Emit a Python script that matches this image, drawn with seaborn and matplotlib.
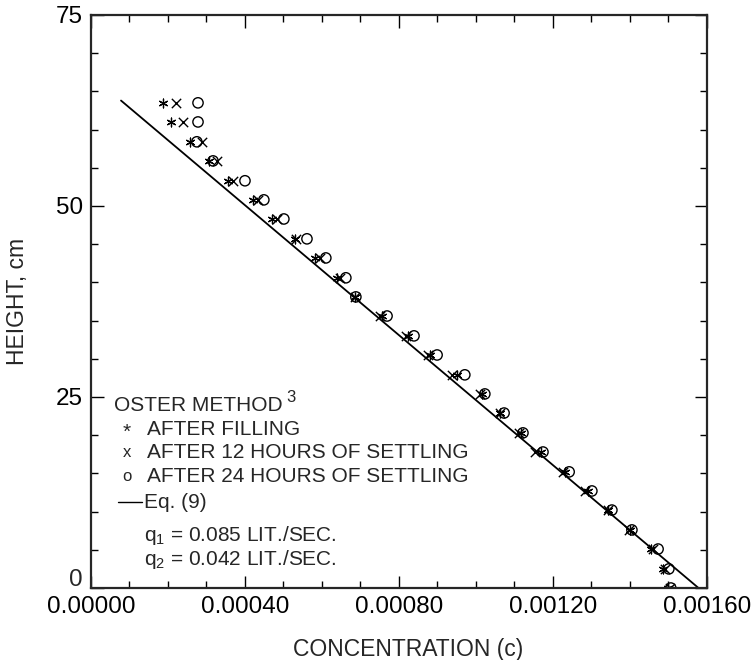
import matplotlib.pyplot as plt
import seaborn as sns
from matplotlib.ticker import MultipleLocator, FormatStrFormatter, FuncFormatter

# Heights of the sampling ports (cm)
heights = [63.5, 61.0, 58.4, 55.9, 53.3, 50.8, 48.3, 45.7, 43.2, 40.6, 38.1, 35.6, 33.0,
           30.5, 27.9, 25.4, 22.9, 20.3, 17.8, 15.2, 12.7, 10.2, 7.6, 5.1, 2.5, 0.0]

# Concentrations
after_filling = [0.000187, 0.000208, 0.000257, 0.000306, 0.000356, 0.000421, 0.000470,
                 0.000530, 0.000582, 0.000639, 0.000686, 0.000756, 0.000823, 0.000881,
                 0.000951, 0.001016, 0.001062, 0.001117, 0.001169, 0.001231, 0.001291,
                 0.001343, 0.001400, 0.001455, 0.001486, 0.001499]
after_12h = [0.000221, 0.000239, 0.000288, 0.000327, 0.000369, 0.000434, 0.000483,
             0.000532, 0.000595, 0.000647, 0.000686, 0.000751, 0.000818, 0.000875,
             0.000938, 0.001010, 0.001062, 0.001112, 0.001153, 0.001226, 0.001283,
             0.001343, 0.001397, 0.001460, 0.001491, 0.001504]
after_24h = [0.000278, 0.000278, 0.000275, 0.000317, 0.000400, 0.000449, 0.000501,
             0.000561, 0.000610, 0.000662, 0.000688, 0.000769, 0.000839, 0.000899,
             0.000971, 0.001023, 0.001073, 0.001122, 0.001174, 0.001242, 0.001301,
             0.001353, 0.001405, 0.001473, 0.001501, 0.001506]

# Eq. (9)
eq_conc = [0.000078, 0.001578]
eq_height = [63.8, 0.0]

sns.set_style('ticks')
plt.rcParams['font.family'] = ['Liberation Sans', 'DejaVu Sans']
plt.rcParams['mathtext.default'] = 'regular'

fig, ax = plt.subplots(figsize=(7.55, 6.6), dpi=100)
fig.subplots_adjust(left=0.1205, right=0.9364, top=0.9773, bottom=0.1091)

sns.lineplot(x=eq_conc, y=eq_height, sort=False, estimator=None, color='black',
             linewidth=1.3, ax=ax)
sns.scatterplot(x=after_filling, y=heights, marker=(6, 2, 0), s=40, color='black',
                linewidth=0.9, legend=False, ax=ax)
sns.scatterplot(x=after_12h, y=heights, marker='x', s=45, color='black',
                linewidth=1.0, legend=False, ax=ax)
sns.scatterplot(x=after_24h, y=heights, marker='o', s=55, facecolor='none',
                edgecolor='black', linewidth=1.0, legend=False, ax=ax)

ax.set_xlim(0, 0.0016)
ax.set_ylim(0, 75)
ax.xaxis.set_major_locator(MultipleLocator(0.0004))
ax.xaxis.set_minor_locator(MultipleLocator(0.0001))
ax.xaxis.set_major_formatter(FormatStrFormatter('%.5f'))
ax.yaxis.set_major_locator(MultipleLocator(25))
ax.yaxis.set_minor_locator(MultipleLocator(5))
# the "0" of the height axis is written separately, a little raised
ax.yaxis.set_major_formatter(FuncFormatter(lambda v, p: '' if v == 0 else '%d' % v))

for side in ['left', 'right', 'top', 'bottom']:
    ax.spines[side].set_visible(True)
    ax.spines[side].set_linewidth(1.6)
ax.tick_params(which='both', direction='in', top=True, right=True, width=1.0,
               colors='black', labelsize=17.5)
ax.tick_params(which='major', length=9, pad=6)
ax.tick_params(which='minor', length=5)

ax.text(-0.013, -0.006, '0', fontsize=17.5, ha='right', va='bottom', transform=ax.transAxes)

ax.set_xlabel('CONCENTRATION (c)', fontsize=16.5)
ax.set_ylabel('HEIGHT, cm', fontsize=16.5)
ax.xaxis.set_label_coords(0.515, -0.087)
ax.yaxis.set_label_coords(-0.10, 0.5)


# Key drawn as text, like the original
def fx(px):
    return (px - 91) / 616


def fy(py):
    return (588 - py) / 573


fs = 15
ax.text(fx(114), fy(406), 'OSTER METHOD', fontsize=fs, va='center', transform=ax.transAxes)
ax.text(fx(286), fy(398), '3', fontsize=12, va='center', transform=ax.transAxes)
ax.text(fx(127), fy(432), '*', fontsize=fs, va='center', ha='center', transform=ax.transAxes)
ax.text(fx(147), fy(430), 'AFTER FILLING', fontsize=fs, va='center', transform=ax.transAxes)
ax.text(fx(127), fy(453), 'x', fontsize=12, va='center', ha='center', transform=ax.transAxes)
ax.text(fx(147), fy(453), 'AFTER 12 HOURS OF SETTLING', fontsize=fs, va='center',
        transform=ax.transAxes)
ax.text(fx(127), fy(477), 'o', fontsize=12, va='center', ha='center', transform=ax.transAxes)
ax.text(fx(147), fy(477), 'AFTER 24 HOURS OF SETTLING', fontsize=fs, va='center',
        transform=ax.transAxes)
ax.plot([fx(118), fx(142)], [fy(502), fy(502)], color='black', linewidth=1.0,
        transform=ax.transAxes)
ax.text(fx(144), fy(503), 'Eq. (9)', fontsize=fs, va='center', transform=ax.transAxes)
ax.text(fx(144), fy(536), 'q$_1$ = 0.085 LIT./SEC.', fontsize=fs, va='center',
        transform=ax.transAxes)
ax.text(fx(144), fy(560), 'q$_2$ = 0.042 LIT./SEC.', fontsize=fs, va='center',
        transform=ax.transAxes)

fig.savefig('out.png', dpi=100)
